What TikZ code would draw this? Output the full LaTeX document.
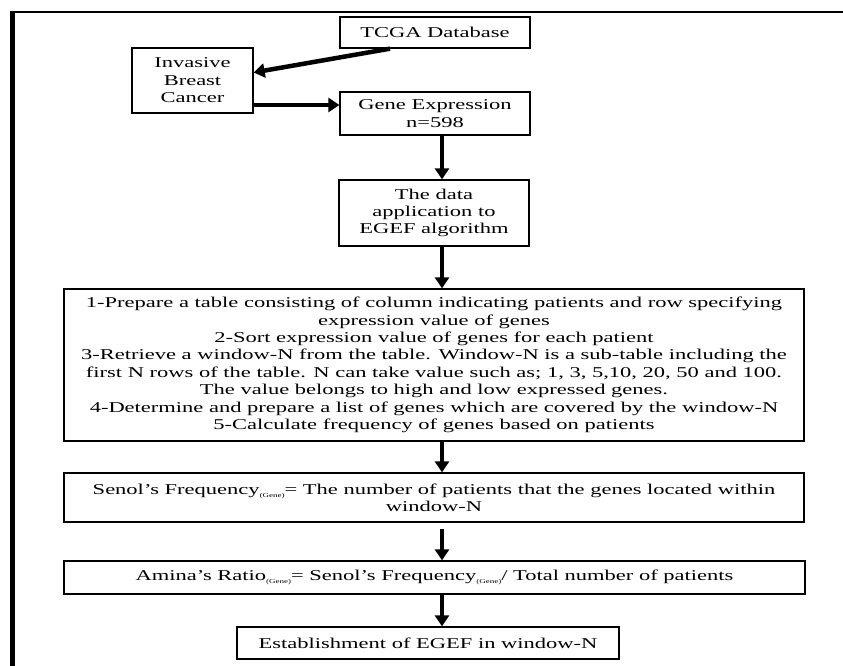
\documentclass[tikz,border=0pt]{standalone}
\usepackage{fontspec}
\setmainfont[FakeStretch=1.5]{Liberation Serif}
\usetikzlibrary{arrows.meta,calc}
\newcommand\gsub{\raisebox{-3pt}{\fontsize{6}{6}\selectfont(Gene)}}
\begin{document}
\begin{tikzpicture}[x=1pt,y=-1pt,
  box/.style={draw=black,line width=1.3pt,align=center,inner sep=0pt,font=\fontsize{15}{17.4}\selectfont},
  flow/.style={line width=4.5pt,-{Triangle[length=11pt,width=14pt]}},
  frameline/.style={draw=black}]
\useasboundingbox (0,0) rectangle (843,666);
\fill[white] (0,0) rectangle (843,666);
\coordinate (fa) at (12.5,12);
\coordinate (fb) at (12.5,666);
\coordinate (fc) at (10,12.5);
\coordinate (fd) at (843,12.5);
\draw[frameline,line width=5pt] (fa) -- (fb);
\draw[frameline,line width=2pt] (fc) -- (fd);

\node[box,minimum width=190pt,minimum height=31pt] (tcga) at (435,32.5) {TCGA Database};
\node[box,minimum width=121pt,minimum height=65pt] (ibc) at (192.5,80.5) {Invasive\\Breast\\Cancer};
\node[box,minimum width=190pt,minimum height=43pt] (ge) at (435,113.5) {Gene Expression\\n=598};
\node[box,minimum width=190pt,minimum height=66pt] (data) at (434,213) {The data\\application to\\EGEF algorithm};
\node[box,minimum width=740pt,minimum height=152pt] (big) at (434,365) {1-Prepare a table consisting of column indicating patients and row specifying\\expression value of genes\\2-Sort expression value of genes for each patient\\3-Retrieve a window-N from the table. Window-N is a sub-table including the\\first N rows of the table. N can take value such as; 1, 3, 5,10, 20, 50 and 100.\\The value belongs to high and low expressed genes.\\4-Determine and prepare a list of genes which are covered by the window-N\\5-Calculate frequency of genes based on patients};
\node[box,minimum width=740pt,minimum height=49pt] (senol) at (434,497.5) {Senol's Frequency\gsub= The number of patients that the genes located within\\window-N};
\node[box,minimum width=741pt,minimum height=33pt] (amina) at (434.5,577.5) {Amina's Ratio\gsub= Senol's Frequency\gsub/ Total number of patients};
\node[box,minimum width=382pt,minimum height=32pt] (est) at (428,643) {Establishment of EGEF in window-N};

\coordinate (ax) at (442,0);
\coordinate (r1) at ([xshift=-45pt]tcga.south);
\coordinate (r2) at ([yshift=-24.5pt]ibc.east);
\draw[flow] (r1) -- ([yshift=8pt]ibc.east);
\draw[flow] (r2) -- (r2 -| ge.west);
\draw[flow] (ge.south -| ax) -- (data.north -| ax);
\draw[flow] (data.south -| ax) -- (big.north -| ax);
\draw[flow] (big.south -| ax) -- (senol.north -| ax);
\draw[flow,shorten <=6pt] (senol.south -| ax) -- (amina.north -| ax);
\draw[flow] (amina.south -| ax) -- (est.north -| ax);
\end{tikzpicture}
\end{document}
